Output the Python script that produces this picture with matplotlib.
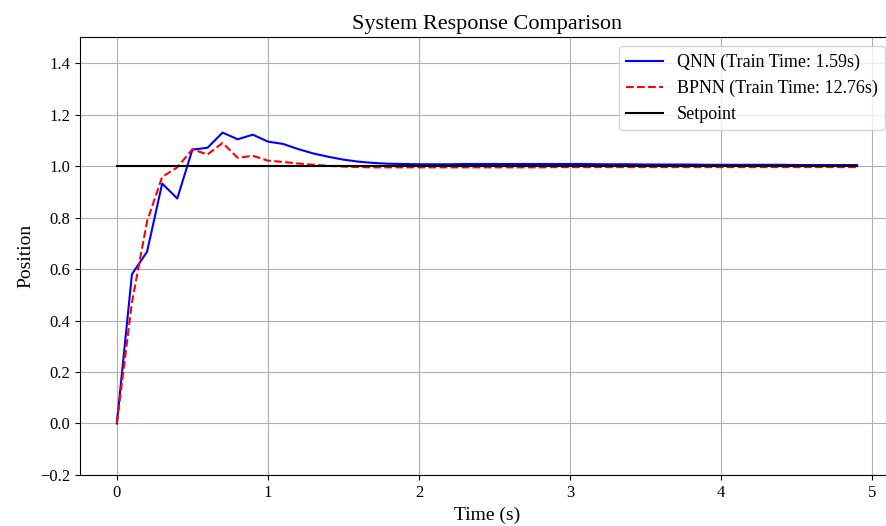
import numpy as np
import matplotlib
matplotlib.use("Agg")
import matplotlib.pyplot as plt

plt.rcParams['font.family'] = ['Liberation Serif', 'DejaVu Serif']

# time axis, 0.1 s steps
t = np.round(np.arange(0, 5.0, 0.1), 1)

# QNN response
qnn = [0.000, 0.580, 0.667, 0.932, 0.874, 1.064, 1.071, 1.130, 1.104, 1.122,
       1.095, 1.086, 1.066, 1.049, 1.036, 1.025, 1.017, 1.012, 1.009, 1.008,
       1.007,
       1.007, 1.007, 1.008, 1.008, 1.008, 1.008, 1.008, 1.008, 1.008, 1.008,
       1.008, 1.007, 1.007, 1.007, 1.006, 1.006, 1.006, 1.006, 1.005, 1.005,
       1.005, 1.005, 1.005, 1.005, 1.004, 1.004, 1.004, 1.004, 1.004]

# BPNN response
bpnn = [0.000, 0.470, 0.785, 0.958, 0.995, 1.065, 1.045, 1.090, 1.032, 1.040,
        1.021, 1.016, 1.010, 1.005, 1.001, 0.998, 0.996, 0.995, 0.995, 0.995,
        0.995,
        0.995, 0.995, 0.995, 0.995, 0.995, 0.995, 0.995, 0.995, 0.996, 0.996,
        0.996, 0.996, 0.996, 0.996, 0.996, 0.996, 0.996, 0.996, 0.996, 0.996,
        0.996, 0.996, 0.996, 0.996, 0.996, 0.996, 0.996, 0.996, 0.996]

setpoint = np.ones(len(t))

qnn_time = 1.59
bpnn_time = 12.76

fig, ax = plt.subplots(figsize=(8.87, 5.26), dpi=100)
# the original is cropped a little on the right, so the axes run past the edge
fig.subplots_adjust(left=0.09, right=1.008, top=0.929, bottom=0.097)

ax.plot(t, qnn, 'b-', label=f'QNN (Train Time: {qnn_time:.2f}s)')
ax.plot(t, bpnn, 'r--', label=f'BPNN (Train Time: {bpnn_time:.2f}s)')
ax.plot(t, setpoint, 'k-', label='Setpoint')

ax.set_ylim(-0.2, 1.5)
ax.set_xlabel('Time (s)', fontsize=14)
ax.set_ylabel('Position', fontsize=14)
ax.set_title('System Response Comparison', fontsize=16)
ax.tick_params(labelsize=12)
ax.grid(True)
ax.legend(loc='upper right', fontsize=13)

plt.savefig('out.png')
